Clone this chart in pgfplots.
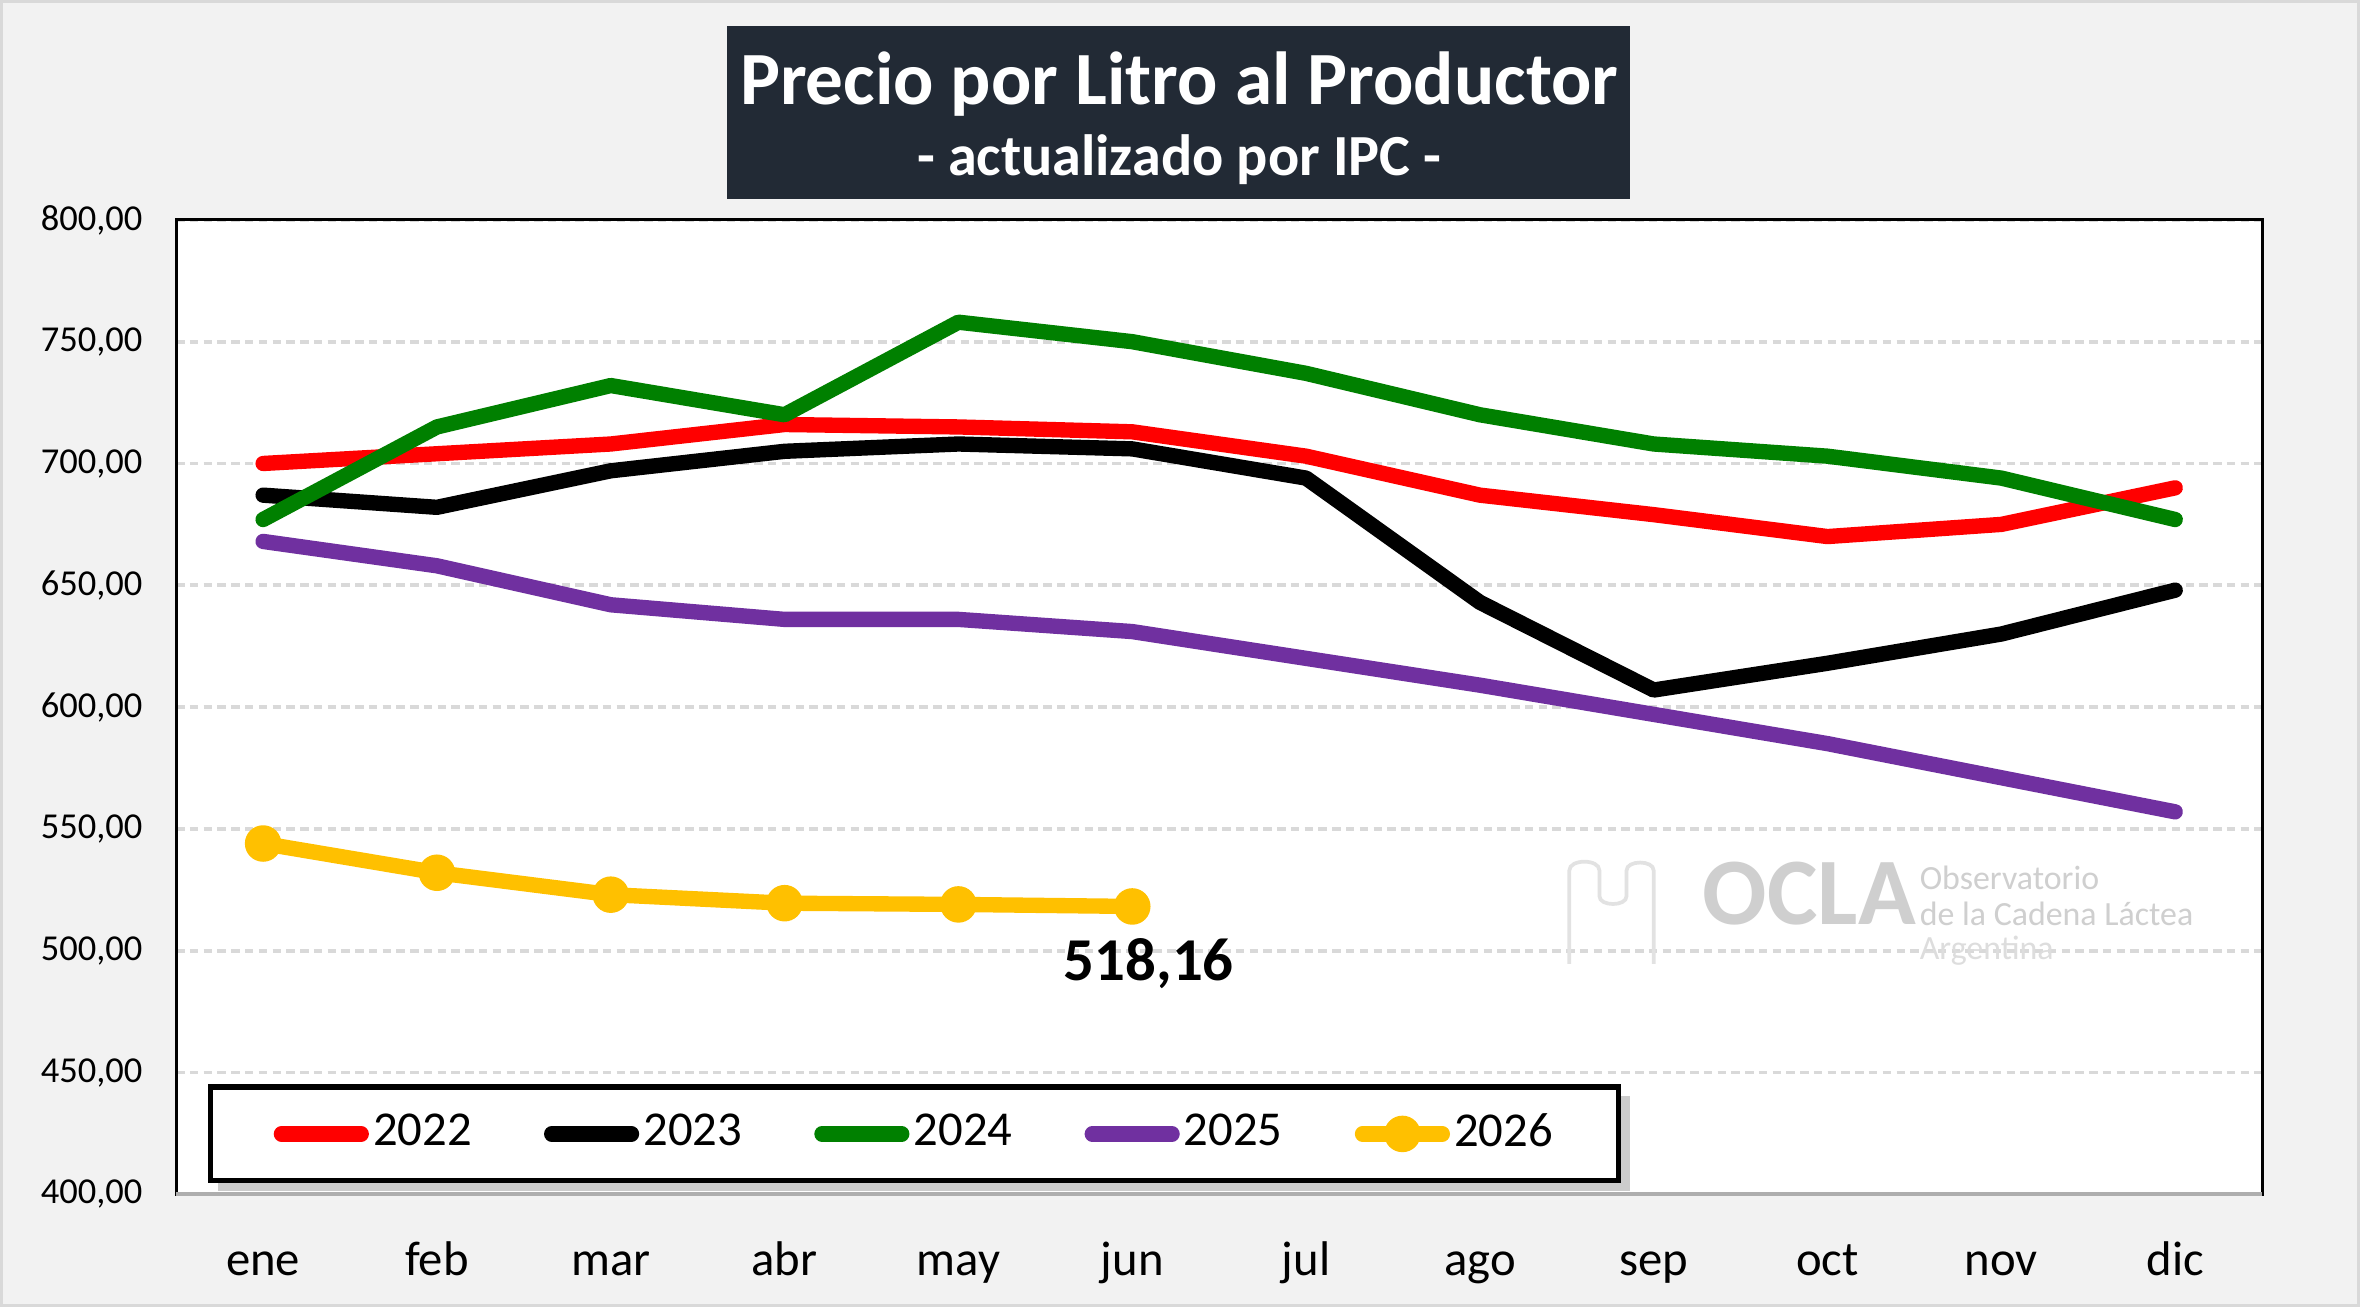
\documentclass[border=0pt]{standalone}
\usepackage{pgfplots}
\pgfplotsset{compat=1.18}
\usepackage{fontspec}
\setmainfont{Carlito}
\definecolor{bg}{HTML}{F2F2F2}
\definecolor{titlebg}{HTML}{222A35}
\definecolor{gridc}{HTML}{D9D9D9}
\definecolor{cred}{HTML}{FF0000}
\definecolor{cgreen}{HTML}{008000}
\definecolor{cpurple}{HTML}{7030A0}
\definecolor{cyellow}{HTML}{FFC000}
\definecolor{wm}{HTML}{CFCFCF}
\begin{document}
\begin{tikzpicture}
\fill[bg] (0,0) rectangle (15.67,8.678);
\draw[gridc, line width=0.6pt] (0.01,0.01) rectangle (15.66,8.668);
% title box
\fill[titlebg] (4.83,8.678-1.32) rectangle (10.82,8.678-0.17);
\node[text=white, font=\bfseries\fontsize{14.2}{17}\selectfont] at (7.83,8.678-0.56) {Precio por Litro al Productor};
\node[text=white, font=\bfseries\fontsize{11}{13}\selectfont] at (7.83,8.678-1.06) {- actualizado por IPC -};
\begin{axis}[
  at={(1.17cm,0.748cm)}, anchor=south west,
  scale only axis, width=13.85cm, height=6.47cm,
  xmin=-0.5, xmax=11.5, ymin=400, ymax=800,
  xtick={0,...,11},
  xticklabels={ene,feb,mar,abr,may,jun,jul,ago,sep,oct,nov,dic},
  ytick={400,450,...,800},
  major tick length=0pt,
  xmajorgrids=false,
  ymajorgrids=true,
  major grid style={color=gridc, line width=0.7pt, dash pattern=on 1.6pt off 1pt},
  axis background/.style={fill=white},
  axis line style={black, line width=0.6pt},
  /pgf/number format/.cd, fixed, fixed zerofill, precision=2, use comma, 1000 sep={}, assume math mode=true,
  /pgfplots/.cd,
  yticklabel style={font=\fontsize{6.9}{8}\selectfont, xshift=-0.1cm},
  xticklabel style={font=\fontsize{9.2}{11}\selectfont, anchor=base, yshift=-0.54cm},
  every axis plot/.append style={line width=2.9pt, line join=round, line cap=round},
  legend columns=5,
  legend image code/.code={\draw[mark repeat=2,mark phase=2,#1] plot coordinates {(0cm,0cm)(0.265cm,0cm)(0.53cm,0cm)};},
  legend style={at={(0.01516,0.1128)}, anchor=north west, draw=black, line width=1pt, fill=white,
    font=\fontsize{9.2}{11}\selectfont,
    inner xsep=0.42cm, inner ysep=4.5pt,
    nodes={inner sep=0.5pt},
    /tikz/every odd column/.append style={column sep=0.01cm},
    /tikz/every even column/.append style={column sep=0.462cm}},
]
% legend shadow
\fill[black!20] ([xshift=0.07cm,yshift=-0.08cm]rel axis cs:0.01516,0.0160) rectangle ([xshift=0.07cm,yshift=-0.08cm]rel axis cs:0.6917,0.1128);
\addplot[cred] coordinates {(0,700)(1,704)(2,708)(3,716)(4,715)(5,713)(6,703)(7,687)(8,679)(9,670)(10,675)(11,690)};
\addlegendentry{2022}
\addplot[black] coordinates {(0,687)(1,682)(2,697)(3,705)(4,708)(5,706)(6,694)(7,643)(8,607)(9,618)(10,630)(11,648)};
\addlegendentry{2023}
\addplot[cgreen] coordinates {(0,677)(1,715)(2,732)(3,720)(4,758)(5,750)(6,737)(7,720)(8,708)(9,703)(10,694)(11,677)};
\addlegendentry{2024}
\addplot[cpurple] coordinates {(0,668)(1,658)(2,642)(3,636)(4,636)(5,631)(6,620)(7,609)(8,597)(9,585)(10,571)(11,557)};
\addlegendentry{2025}
\addplot[cyellow, mark=*, mark size=3.2pt, mark options={fill=cyellow, draw=cyellow, line width=0.5pt}] coordinates {(0,544)(1,532)(2,523)(3,519.5)(4,519)(5,518.16)};
\addlegendentry{2026}
\node[font=\bfseries\fontsize{11.5}{13}\selectfont] at (axis cs:5,518.16) [xshift=0.11cm, yshift=-0.38cm] {518,16};
\end{axis}
% bottom axis line in gray
\draw[gridc!80!black, line width=0.8pt] (1.17,0.748) -- (15.02,0.748);
% watermark
\node[wm, font=\bfseries\fontsize{18}{20}\selectfont, anchor=west, inner sep=0pt] at (11.30,8.678-5.93) {OCLA};
\node[wm, font=\fontsize{6.4}{7}\selectfont, anchor=west, inner sep=0pt] at (12.74,8.678-5.83) {Observatorio};
\node[wm, font=\fontsize{6.4}{7}\selectfont, anchor=west, inner sep=0pt] at (12.74,8.678-6.07) {de la Cadena Láctea};
\node[wm!70, font=\fontsize{6.4}{7}\selectfont, anchor=west, inner sep=0pt] at (12.74,8.678-6.31) {Argentina};
\draw[wm!60, line width=0.7pt] (10.42,8.678-6.40) -- (10.42,8.678-5.78) to[out=90,in=90] (10.62,8.678-5.78) -- (10.62,8.678-5.95) to[out=-90,in=-90] (10.80,8.678-5.95) -- (10.80,8.678-5.78) to[out=90,in=90] (10.98,8.678-5.78) -- (10.98,8.678-6.40);
\pgfresetboundingbox
\useasboundingbox (0,0) rectangle (15.67,8.678);
\end{tikzpicture}
\end{document}
